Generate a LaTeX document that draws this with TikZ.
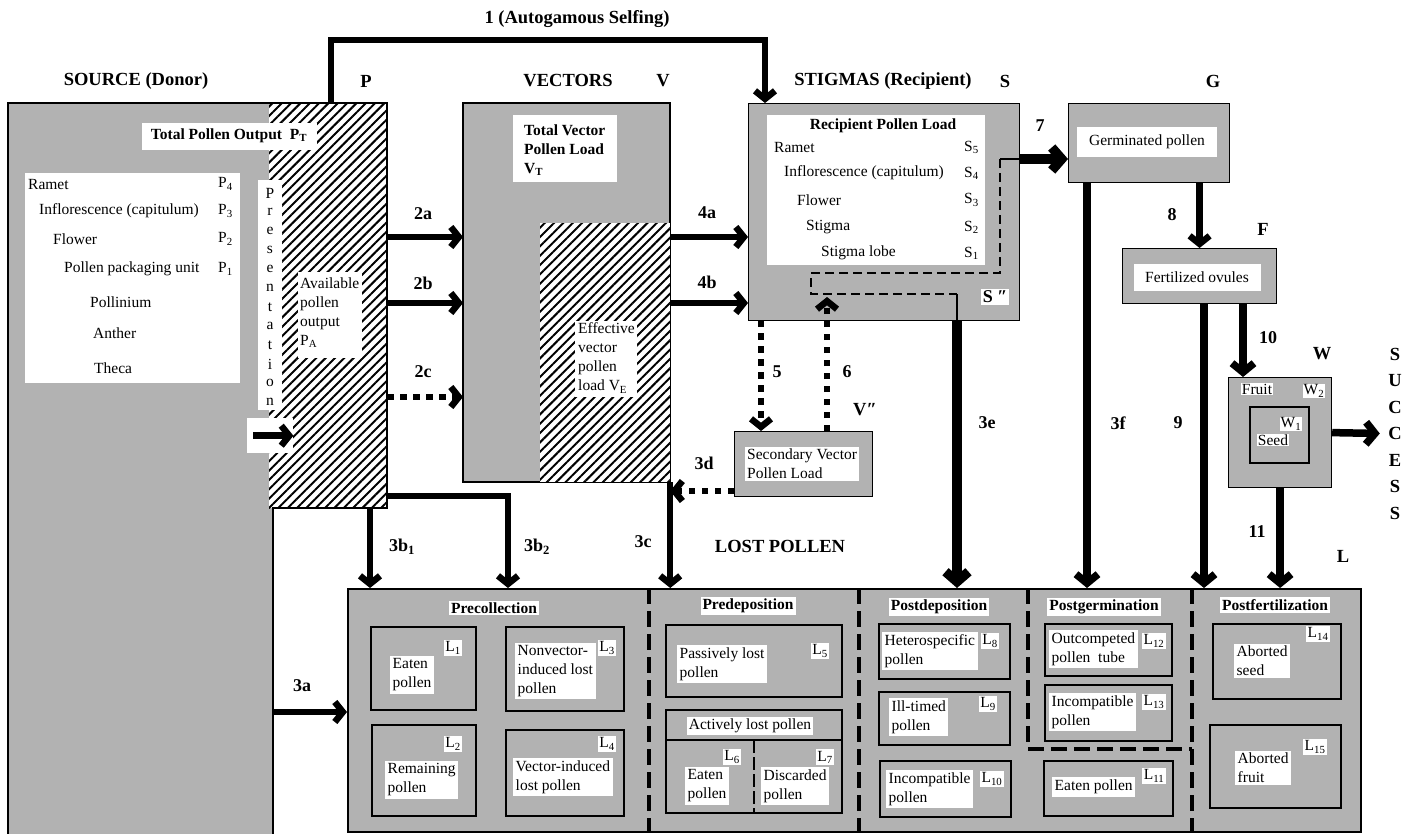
\documentclass[tikz,border=0pt]{standalone}
\usepackage{fontspec}
\setmainfont{Liberation Serif}
\usetikzlibrary{arrows.meta,patterns.meta,positioning}

\definecolor{dotgray}{gray}{0.7}

\begin{document}
\begin{tikzpicture}[x=1pt,y=-1pt,
        font=\fontsize{15.5}{19}\selectfont,
        panel/.style={draw, line width=1.2pt, fill=dotgray, anchor=north west, inner sep=0pt},
        cell/.style={draw, line width=2pt, fill=dotgray, anchor=north west, inner sep=0pt},
        hatch/.style={pattern={Lines[angle=45,distance=6.6pt,line width=2pt]}},
        blank/.style={fill=white, anchor=north west, inner sep=0pt},
        txt/.style={anchor=west, align=left, inner sep=1pt},
        celltxt/.style={fill=white, anchor=west, align=left, inner sep=2.5pt},
        tab/.style={fill=white, inner sep=2pt},
        boldtxt/.style={font=\fontsize{15.5}{19}\selectfont\bfseries},
        heading/.style={font=\fontsize{18.5}{22}\selectfont\bfseries},
        arrlabel/.style={font=\fontsize{18}{20}\selectfont\bfseries},
        flow/.style={line width=6.5pt, -{Straight Barb[length=8pt,width=20pt]}},
        bigflow/.style={line width=7.5pt, -{Straight Barb[length=9pt,width=22pt]}},
        hugeflow/.style={line width=9.5pt, -{Straight Barb[length=10pt,width=23pt]}},
        dotflow/.style={flow, dash pattern=on 6.5pt off 6.5pt},
        thinpath/.style={line width=1.2pt},
        divider/.style={line width=4pt, dash pattern=on 16pt off 7pt}]
        \path[use as bounding box, clip] (0,0) rectangle (1413,833);

        \node[heading] (src-head) at (136,81) {SOURCE (Donor)};
        \node[heading] (p-head) at (366,81) {P};
        \node[heading] (vec-head) at (568,81) {VECTORS};
        \node[heading] (v-head) at (663,81) {V};
        \node[heading] (stig-head) at (883,81) {STIGMAS (Recipient)};
        \node[heading] (s-head) at (1005,81) {S};
        \node[heading] (g-head) at (1213,81) {G};
        \node[heading] (f-head) at (1263,229) {F};
        \node[heading] (w-head) at (1322,354) {W};
        \node[heading] (l-head) at (1343,556) {L};
        \node[heading] (vv-head) at (865,410) {V″};
        \node[heading] (lost-head) at (780,546) {LOST POLLEN};
        \node[heading] (self-head) at (577,19) {1 (Autogamous Selfing)};
        \foreach \ch [count=\i] in {S,U,C,C,E,S,S}
            \node[heading] (succ\i) at (1395,{354+26.5*(\i-1)}) {\ch};

        \fill[dotgray] (8,103) rectangle (273,840);
        \fill[white] (269,103) rectangle (387,508);
        \fill[hatch] (269,103) rectangle (387,508);
        \draw[thinpath] (8,840) -- (8,103) -- (387,103) -- (387,508) -- (273,508) -- (273,840);
        \node[tab, boldtxt, minimum width=175, minimum height=27] (tpo) at (229,136) {Total Pollen Output\enspace P\textsubscript{T}};
        \node[blank, minimum width=215, minimum height=210] (src-list) at (25,173) {};
        \foreach \lvl/\xx/\yy/\k in {Ramet/27/184/4, Inflorescence (capitulum)/38/211/3, Flower/52/239/2, Pollen packaging unit/63/269/1} {
            \node[txt] (src-lvl\k) at (\xx,\yy) {\lvl};
            \node[txt] (src-p\k) at (217,\yy) {P\textsubscript{\k}};
        }
        \node[txt] (src-pollinium) at (89,302) {Pollinium};
        \node[txt] (src-anther) at (92,333) {Anther};
        \node[txt] (src-theca) at (93,368) {Theca};
        \node[blank, minimum width=24, minimum height=230] (pres-strip) at (258,180) {};
        \foreach \ch [count=\i] in {P,r,e,s,e,n,t,a,t,i,o,n}
            \node (pres\i) at (270,{193+19*(\i-1)}) {\ch};
        \node[blank, minimum width=46, minimum height=35] (pres-box) at (247,418) {};
        \node[blank, minimum width=64, minimum height=86] (avail-box) at (298,272) {};
        \node[txt] (avail) at (299,313) {Available\\pollen\\output\\P\textsubscript{A}};

        \node[panel, minimum width=206, minimum height=378] (vectors) at (463,103) {};
        \fill[white] (540,223) rectangle (vectors.south east);
        \fill[hatch] (540,223) rectangle (vectors.south east);
        \draw[thinpath] (vectors.north west) rectangle (vectors.south east);
        \node[blank, minimum width=104, minimum height=67] (vt-box) at (513,115) {};
        \node[txt, boldtxt] (vt) at (523,150) {Total Vector\\Pollen Load\\V\textsubscript{T}};
        \node[blank, minimum width=62, minimum height=76] (ve-box) at (575,321) {};
        \node[txt] (ve) at (577,358) {Effective\\vector\\pollen\\load V\textsubscript{E}};

        \node[panel, minimum width=271, minimum height=217] (stigmas) at (748,103) {};
        \node[blank, minimum width=218, minimum height=150] (stig-list) at (767,115) {};
        \node[boldtxt] (rpl) at (883,126) {Recipient Pollen Load};
        \foreach \lvl/\xx/\yy/\k in {Ramet/773/147/5, Inflorescence (capitulum)/783/173/4, Flower/796/200/3, Stigma/805/227/2, Stigma lobe/820/253/1} {
            \node[txt] (stig-lvl\k) at (\xx,\yy) {\lvl};
            \node[txt] (stig-s\k) at (963,\yy) {S\textsubscript{\k}};
        }
        \coordinate (stig-out) at (1000,159);
        \coordinate (stig-turn) at (811,273);
        \coordinate (stig-loss) at (957,294);
        \draw[thinpath, dash pattern=on 9pt off 5pt] (stig-out) |- (stig-turn) |- (stig-loss);
        \draw[thinpath] (stig-out) -- (stigmas.east |- stig-out);
        \draw[thinpath] (stig-loss) -- (stigmas.south -| stig-loss);
        \node[tab, arrlabel] (s-dd) at (995,297) {S ″};

        \node[panel, minimum width=138, minimum height=65] (sec) at (734,431) {};
        \node[txt, fill=white, inner sep=2pt] (sec-txt) at (745,464) {Secondary Vector\\Pollen Load};

        \node[panel, minimum width=161, minimum height=79] (germ) at (1068,103) {};
        \node[tab, minimum width=140, minimum height=30] (germ-txt) at (1147,142) {Germinated pollen};
        \node[panel, minimum width=154, minimum height=55] (fert) at (1122,248) {};
        \node[tab, minimum width=127, minimum height=27] (fert-txt) at (1197,277) {Fertilized ovules};
        \node[panel, minimum width=103, minimum height=110] (fruit) at (1228,377) {};
        \node[tab, inner sep=1pt] (fruit-txt) at (1257,389) {Fruit};
        \node[tab, inner sep=1pt] (fruit-w) at (1314,391) {W\textsubscript{2}};
        \node[cell, minimum width=59, minimum height=56] (seed) at (1249,406) {};
        \node[tab, inner sep=1pt] (seed-w) at (1291,424) {W\textsubscript{1}};
        \node[tab, inner sep=1pt] (seed-txt) at (1273,440) {Seed};

        \node[panel, line width=1.5pt, minimum width=1013, minimum height=243] (loss) at (347,588) {};
        \coordinate (div-a) at (649,588);
        \coordinate (div-b) at (859,588);
        \coordinate (div-c) at (1028,588);
        \coordinate (div-d) at (1192,588);
        \coordinate (div-e) at (1028,749);
        \draw[divider] (div-a) -- (div-a |- loss.south);
        \draw[divider] (div-b) -- (div-b |- loss.south);
        \draw[divider] (div-c) -- (div-e) -- (div-d |- div-e);
        \draw[divider] (div-d) -- (div-d |- loss.south);
        \foreach \nm/\xx/\yy in {Precollection/494/608, Predeposition/748/606, Postdeposition/939/607, Postgermination/1104/607, Postfertilization/1275/605}
            \node[tab, boldtxt] (\nm) at (\xx,\yy) {\nm};
        \foreach \nm/\xx/\yy/\ww/\hh in {1/370/626/105/83, 2/371/724/104/91, 3/505/626/118/84, 4/505/729/118/86, 5/665/624/176/72, 6/665/709/176/103, 8/878/623/131/55, 9/878/691/131/53, 10/879/760/131/56, 12/1044/623/127/52, 13/1044/684/127/56, 11/1043/760/129/55, 14/1212/623/128/75, 15/1209/724/131/83}
            \node[cell, minimum width=\ww, minimum height=\hh] (cell\nm) at (\xx,\yy) {};
        \node[tab] (active) at (750,726) {Actively lost pollen};
        \draw[line width=2pt] (cell6.west |- 0,740) -- (cell6.east |- 0,740);
        \draw[line width=2pt, dash pattern=on 13pt off 4pt] (754,740) -- (754,812);
        \foreach \nm/\xx/\yy/\txt in {1/390/675/Eaten\\pollen, 2/385/780/Remaining\\pollen, 3/515/671/Nonvector-\\induced lost\\pollen, 4/513/777/Vector-induced\\lost pollen, 5/677/664/Passively lost\\pollen, 6/685/786/Eaten\\pollen, 7/761/786/Discarded\\pollen, 8/882/651/Heterospecific\\pollen, 9/889/717/Ill-timed\\pollen, 10/886/789/Incompatible\\pollen, 12/1049/649/Outcompeted\\pollen\ \ tube, 13/1049/712/Incompatible\\pollen, 11/1052/787/Eaten pollen, 14/1234/661/Aborted\\seed, 15/1235/768/Aborted\\fruit}
            \node[celltxt] (txt\nm) at (\xx,\yy) {\txt};
        \foreach \nm/\xx/\yy in {1/453/648, 2/453/744, 3/607/648, 4/607/744, 5/820/651, 6/732/757, 7/825/757, 8/990/641, 9/988/704, 10/992/779, 12/1154/641, 13/1154/702, 11/1154/776, 14/1318/634, 15/1315/747}
            \node[tab, inner sep=1.5pt] (lab\nm) at (\xx,\yy) {L\textsubscript{\nm}};

        \foreach \t/\xx/\yy in {2a/423/214, 2b/423/283, 2c/423/372, 4a/707/213, 4b/707/282, 3a/302/686, 3c/643/542, 3d/704/463, 3e/987/423, 3f/1118/423, 5/777/372, 6/847/372, 7/1040/126, 8/1172/215, 9/1178/423, 10/1268/338, 11/1257/532}
            \node[arrlabel] (lab\t) at (\xx,\yy) {\t};
        \node[arrlabel] (lab3b1) at (402,547) {3b\textsubscript{1}};
        \node[arrlabel] (lab3b2) at (537,547) {3b\textsubscript{2}};

        \coordinate (src-self) at (331,103);
        \coordinate (self-top) at (548,40);
        \coordinate (stig-self) at (765,103);
        \coordinate (src-2a) at (387,237);
        \coordinate (src-2b) at (387,303);
        \coordinate (src-2c) at (387,397);
        \coordinate (src-3b1) at (370,508);
        \coordinate (src-3b2) at (387,496);
        \coordinate (loss-3b2) at (508,588);
        \coordinate (src-3a) at (273,712);
        \coordinate (stig-5) at (761,320);
        \coordinate (stig-6) at (827,297);
        \coordinate (sec-3d) at (734,491);
        \coordinate (germ-3f) at (1087,182);
        \coordinate (fert-9) at (1204,303);
        \coordinate (fert-10) at (1243,303);

        \draw[flow] (src-self) |- (self-top) -| (stig-self);
        \draw[flow] ([xshift=6pt]pres-box.west) -- (pres-box.east);
        \draw[flow] (src-2a) -- (vectors.west |- src-2a);
        \draw[flow] (src-2b) -- (vectors.west |- src-2b);
        \draw[dotflow] (src-2c) -- (vectors.west |- src-2c);
        \draw[flow] (vectors.east |- src-2a) -- (stigmas.west |- src-2a);
        \draw[flow] (vectors.east |- src-2b) -- (stigmas.west |- src-2b);
        \draw[dotflow] (stig-5) -- (sec.north -| stig-5);
        \draw[dotflow] (sec.north -| stig-6) -- (stig-6);
        \draw[dotflow] (sec-3d) -- (vectors.south east |- sec-3d);
        \draw[flow] (vectors.south east) -- (loss.north -| vectors.south east);
        \draw[flow] (src-3b1) -- (loss.north -| src-3b1);
        \draw[flow] (src-3b2) -| (loss-3b2);
        \draw[flow] (src-3a) -- (loss.west |- src-3a);
        \draw[hugeflow] (stigmas.east |- stig-out) -- (germ.west |- stig-out);
        \draw[hugeflow] (stigmas.south -| stig-loss) -- (loss.north -| stig-loss);
        \draw[flow] (germ.south -| fert.north) -- (fert.north);
        \draw[bigflow] (germ-3f) -- (loss.north -| germ-3f);
        \draw[bigflow] (fert-9) -- (loss.north -| fert-9);
        \draw[bigflow] (fert-10) -- (fruit.north -| fert-10);
        \draw[bigflow] (fruit.south) -- (loss.north -| fruit.south);
        \draw[bigflow] (fruit.east) -- ([xshift=-5pt]succ4.west);
\end{tikzpicture}
\end{document}
